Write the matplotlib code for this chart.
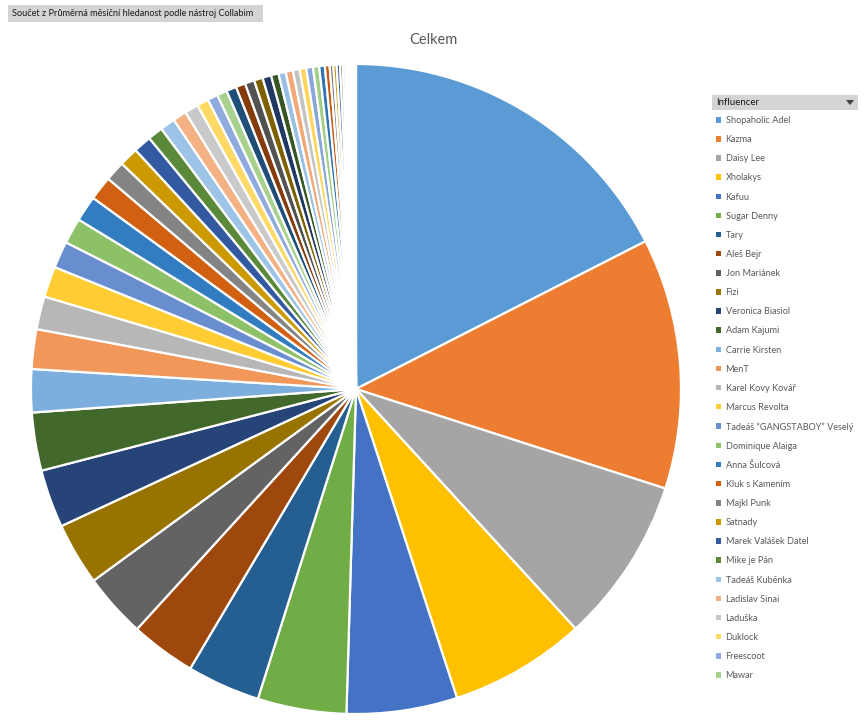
import matplotlib
matplotlib.use("Agg")
from matplotlib import pyplot as plt
from matplotlib.patches import Rectangle, Polygon

plt.rcParams['font.family'] = ['Lato', 'DejaVu Sans']

# --- data -----------------------------------------------------------------------------------------
# average monthly search volume per influencer
names = ["Shopaholic Adel", "Kazma", "Daisy Lee", "Xholakys", "Kafuu", "Sugar Denny", "Tary",
         "Aleš Bejr", "Jon Mariánek", "Fizi", "Veronica Biasiol", "Adam Kajumi", "Carrie Kirsten",
         "MenT", "Karel Kovy Kovář", "Marcus Revolta", "Tadeáš \u201cGANGSTABOY\u201d Veselý",
         "Dominique Alaiga", "Anna Šulcová", "Kluk s Kamením", "Majkl Punk", "Satnady",
         "Marek Valášek Datel", "Mike je Pán", "Tadeáš Kuběnka", "Ladislav Sinai", "Laduška",
         "Duklock", "Freescoot", "Mawar"]
values_named = [6300, 4490, 2970, 2440, 1980, 1590, 1310, 1170, 1150, 1120, 1040, 1040, 770,
                710, 590, 550, 480, 460, 460, 430, 360, 340, 320, 270, 270, 245, 245, 210,
                185, 180]
# the rest of the influencers (not listed in the visible part of the legend)
values_rest = [180, 170, 170, 155, 155, 135, 130, 130, 120, 120, 120, 110, 100, 85, 65, 60, 60,
               50, 45, 40, 35, 30, 25, 20, 15, 12, 10]

values = values_named + values_rest

colors = ["#5B9BD5", "#ED7D31", "#A5A5A5", "#FFC000", "#4472C4", "#70AD47",
          "#255E91", "#9E480E", "#636363", "#997300", "#264478", "#43682B",
          "#7CAFDD", "#F1975A", "#B7B7B7", "#FFCD33", "#698ED0", "#8CC168",
          "#327DC2", "#D26012", "#848484", "#CC9A00", "#335AA1", "#5A8A39",
          "#9DC3E6", "#F4B183", "#C9C9C9", "#FFD966", "#8FAADC", "#A9D18E",
          "#1F4E79", "#843C0C", "#525252", "#7F6000", "#203864", "#375623",
          "#97C0E4", "#F3A878", "#C4C4C4", "#FFD65C", "#88A6DA", "#A2CD85",
          "#2E75B6", "#C55A11", "#7B7B7B", "#BF9000", "#2F5597", "#548235",
          "#BDD7EE", "#F8CBAD", "#DBDBDB", "#FFE699", "#B4C7E7", "#C5E0B4",
          "#DEEBF7", "#FBE5D6", "#EDEDED"]

W, H = 867, 727
fig = plt.figure(figsize=(W / 100, H / 100), dpi=100)

# pie: centre (356, 389) px, radius 325 px
cx, cy, r = 356, 389, 325
ax = fig.add_axes([(cx - r) / W, (H - cy - r) / H, 2 * r / W, 2 * r / H])
wedges, _ = ax.pie(values, colors=colors[:len(values)], startangle=90, counterclock=False,
                   wedgeprops=dict(edgecolor="white", linewidth=1.6))
ax.set_xlim(-1.0, 1.0)
ax.set_ylim(-1.0, 1.0)
ax.set_aspect("equal")

# title
fig.text(433 / W, 1 - 40 / H, "Celkem", ha="center", va="center", fontsize=10.5, color="#595959")

# pivot field button at top left
fig.patches.append(Rectangle((8 / W, 1 - 22 / H), 255 / W, 17 / H, transform=fig.transFigure,
                             facecolor="#D4D4D4", edgecolor="none"))
fig.text(12 / W, 1 - 13.5 / H, "Součet z Průměrná měsíční hledanost podle nástroj Collabim",
         ha="left", va="center", fontsize=6.6, color="#1A1A1A")

# legend header button
fig.patches.append(Rectangle((712 / W, 1 - 110 / H), 146 / W, 15 / H, transform=fig.transFigure,
                             facecolor="#D4D4D4", edgecolor="none"))
fig.text(716 / W, 1 - 102.5 / H, "Influencer", ha="left", va="center", fontsize=7, color="#1A1A1A")
fig.patches.append(Polygon([(846 / W, 1 - 100 / H), (854 / W, 1 - 100 / H), (850 / W, 1 - 105 / H)],
                           closed=True, transform=fig.transFigure, facecolor="#404040",
                           edgecolor="none"))

leg = fig.legend(wedges[:len(names)], names, loc="upper left",
                 bbox_to_anchor=(716 / W, 1 - 116 / H), frameon=False, fontsize=6.6,
                 handlelength=0.55, handleheight=0.55, handletextpad=0.5, labelspacing=1.105,
                 borderaxespad=0, borderpad=0)
for t in leg.get_texts():
    t.set_color("#595959")
for h in leg.legend_handles:
    h.set_edgecolor("none")

fig.savefig("out.png", dpi=100)
